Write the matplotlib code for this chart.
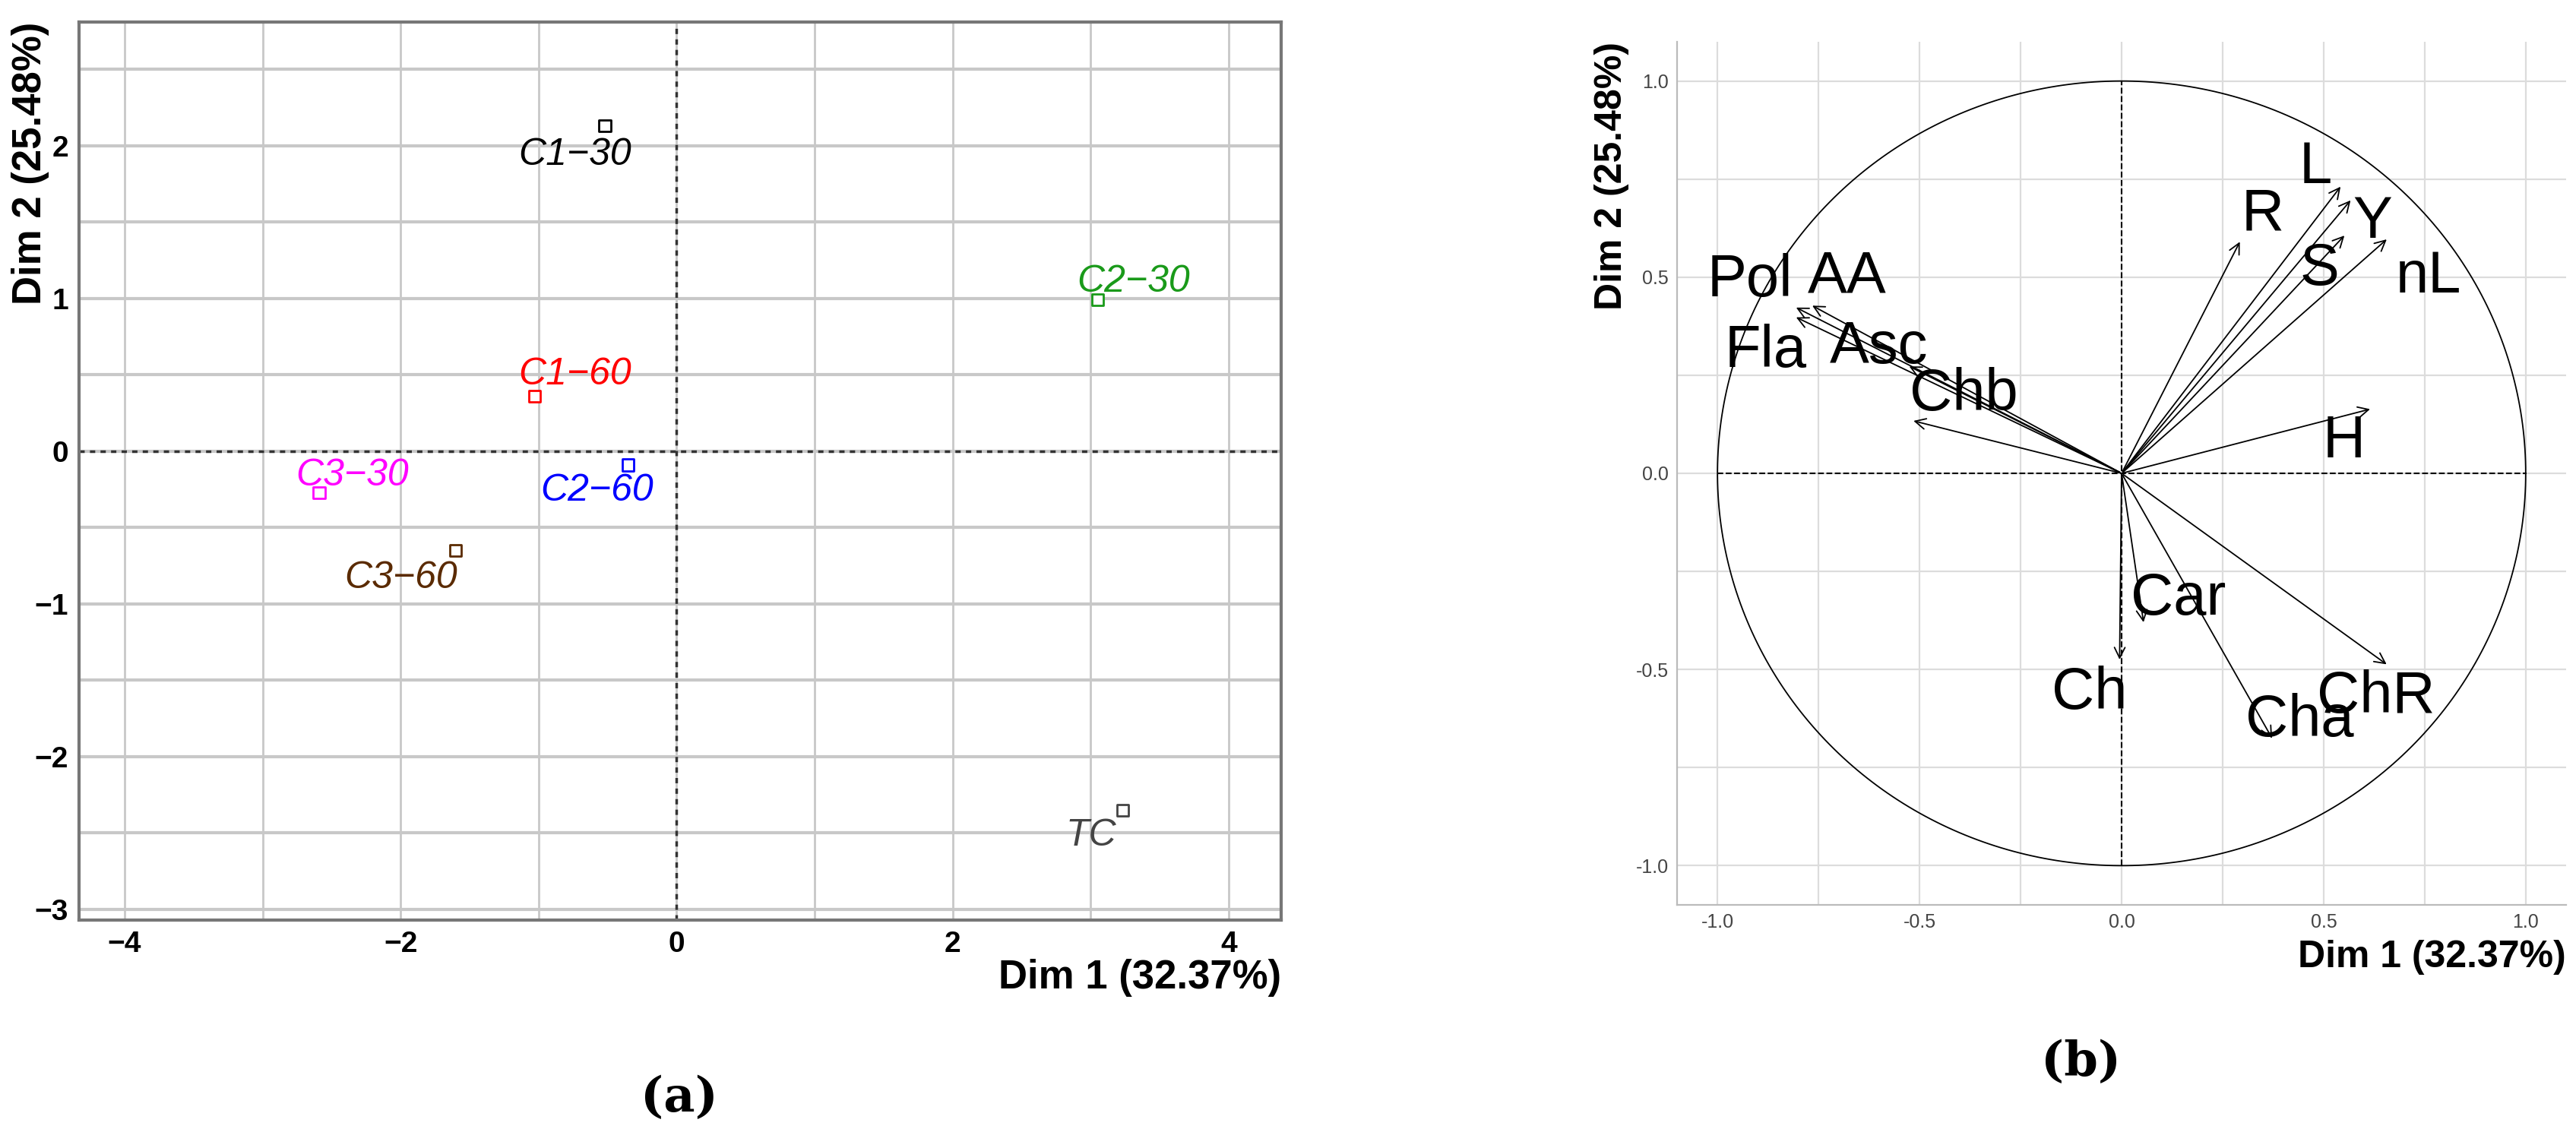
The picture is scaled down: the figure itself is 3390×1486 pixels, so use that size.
import matplotlib
matplotlib.use("Agg")
import matplotlib.pyplot as plt
import numpy as np

plt.rcParams["font.family"] = ["Liberation Sans", "DejaVu Sans"]

# Panel (a): individuals
ind_names = ["C1-30", "C2-30", "C1-60", "C2-60", "C3-30", "C3-60", "TC"]
ind_x = [-0.52, 3.05, -1.03, -0.35, -2.59, -1.60, 3.23]
ind_y = [2.13, 0.99, 0.36, -0.09, -0.27, -0.65, -2.35]
ind_lab_x = [-0.74, 3.31, -0.74, -0.58, -2.35, -2.00, 3.00]
ind_lab_y = [1.94, 1.11, 0.50, -0.26, -0.16, -0.83, -2.52]
ind_colors = ["black", "#1a9a1a", "red", "blue", "magenta", "#5a2a00", "#444444"]

# Panel (b): variables
var_names = ["L", "Y", "S", "nL", "R", "H", "ChR", "Cha", "Car", "Ch", "Chb", "Pol", "AA", "Fla", "Asc"]
var_x = [0.545, 0.57, 0.555, 0.66, 0.295, 0.62, 0.66, 0.375, 0.055, -0.005, -0.52, -0.81, -0.77, -0.81, -0.53]
var_y = [0.735, 0.70, 0.61, 0.60, 0.595, 0.165, -0.49, -0.68, -0.385, -0.48, 0.135, 0.425, 0.43, 0.40, 0.275]
lab_x = [0.48, 0.62, 0.49, 0.76, 0.35, 0.55, 0.63, 0.44, 0.14, -0.08, -0.39, -0.92, -0.68, -0.88, -0.60]
lab_y = [0.78, 0.64, 0.52, 0.50, 0.66, 0.08, -0.57, -0.63, -0.32, -0.56, 0.20, 0.49, 0.50, 0.31, 0.32]

fig = plt.figure(figsize=(33.91, 14.86), dpi=100)

# ---- panel a
W, H = 3391, 1486
axa = fig.add_axes([104/W, 1-1211/H, (1686-104)/W, (1211-29)/H])
axa.set_xlim(-4.33, 4.38)
axa.set_ylim(-3.07, 2.81)
for v in np.arange(-4, 5, 1):
    axa.axvline(v, color="#c8c8c8", lw=2, zorder=0)
for v in np.arange(-3, 3, 0.5):
    axa.axhline(v, color="#c8c8c8", lw=3, zorder=0)
axa.axhline(0, color="#333333", lw=2.5, ls=(0, (2, 2)), zorder=1)
axa.axvline(0, color="#333333", lw=2.5, ls=(0, (2, 2)), zorder=1)
axa.scatter(ind_x, ind_y, marker="s", s=120, facecolors="white", edgecolors=ind_colors, linewidths=2, zorder=3)
for n, lx, ly, c in zip(ind_names, ind_lab_x, ind_lab_y, ind_colors):
    axa.text(lx, ly, n.replace("-", "\u2212"), color=c, fontsize=36, style="italic",
             ha="center", va="center", zorder=4)
axa.set_xticks([-4, -2, 0, 2, 4])
axa.set_yticks([-3, -2, -1, 0, 1, 2])
axa.tick_params(labelsize=28, length=0, pad=10)
for t in axa.get_xticklabels() + axa.get_yticklabels():
    t.set_fontweight("bold")
for s in axa.spines.values():
    s.set_color("#777777"); s.set_linewidth(3)
fig.text(1686/W, 1-1287/H, "Dim 1 (32.37%)", fontsize=38, fontweight="bold", ha="right", va="center")
fig.text(40/W, 1-29/H, "Dim 2 (25.48%)", fontsize=38, fontweight="bold", ha="center", va="top",
         rotation=90)
fig.text(894/W, 1-1446/H, "(a)", fontsize=46, fontweight="bold", ha="center", va="center", family="DejaVu Serif")

# ---- panel b
axb = fig.add_axes([2207/W, 1-1191/H, (3377-2207)/W, (1191-55)/H])
axb.set_xlim(-1.1, 1.1)
axb.set_ylim(-1.1, 1.1)
axb.set_xticks([-1, -0.5, 0, 0.5, 1])
axb.set_yticks([-1, -0.5, 0, 0.5, 1])
axb.set_xticks([-0.75, -0.25, 0.25, 0.75], minor=True)
axb.set_yticks([-0.75, -0.25, 0.25, 0.75], minor=True)
axb.set_xticklabels(["-1.0", "-0.5", "0.0", "0.5", "1.0"])
axb.set_yticklabels(["-1.0", "-0.5", "0.0", "0.5", "1.0"])
axb.grid(True, which="both", color="#dcdcdc", lw=1.6, zorder=0)
axb.tick_params(which="both", length=0, labelsize=18, labelcolor="#444444", pad=8)
for k in ["top", "right"]:
    axb.spines[k].set_visible(False)
for k in ["left", "bottom"]:
    axb.spines[k].set_color("#bbbbbb"); axb.spines[k].set_linewidth(1.6)
th = np.linspace(0, 2*np.pi, 400)
axb.plot(np.cos(th), np.sin(th), color="black", lw=1.3, zorder=2)
axb.plot([-1, 1], [0, 0], color="black", lw=1.5, ls="--", zorder=2)
axb.plot([0, 0], [-1, 1], color="black", lw=1.5, ls="--", zorder=2)
for x, y in zip(var_x, var_y):
    axb.annotate("", xy=(x, y), xytext=(0, 0),
                 arrowprops=dict(arrowstyle="->", color="black", lw=1.3, mutation_scale=25), zorder=3)
for n, x, y in zip(var_names, lab_x, lab_y):
    axb.text(x, y, n, fontsize=56, ha="center", va="center", zorder=4)
fig.text(3377/W, 1-1260/H, "Dim 1 (32.37%)", fontsize=36, fontweight="bold", ha="right", va="center")
fig.text(2121/W, 1-55/H, "Dim 2 (25.48%)", fontsize=36, fontweight="bold", ha="center", va="top", rotation=90)
fig.text(2739/W, 1-1399/H, "(b)", fontsize=46, fontweight="bold", ha="center", va="center", family="DejaVu Serif")

fig.savefig("out.png", dpi=100)
